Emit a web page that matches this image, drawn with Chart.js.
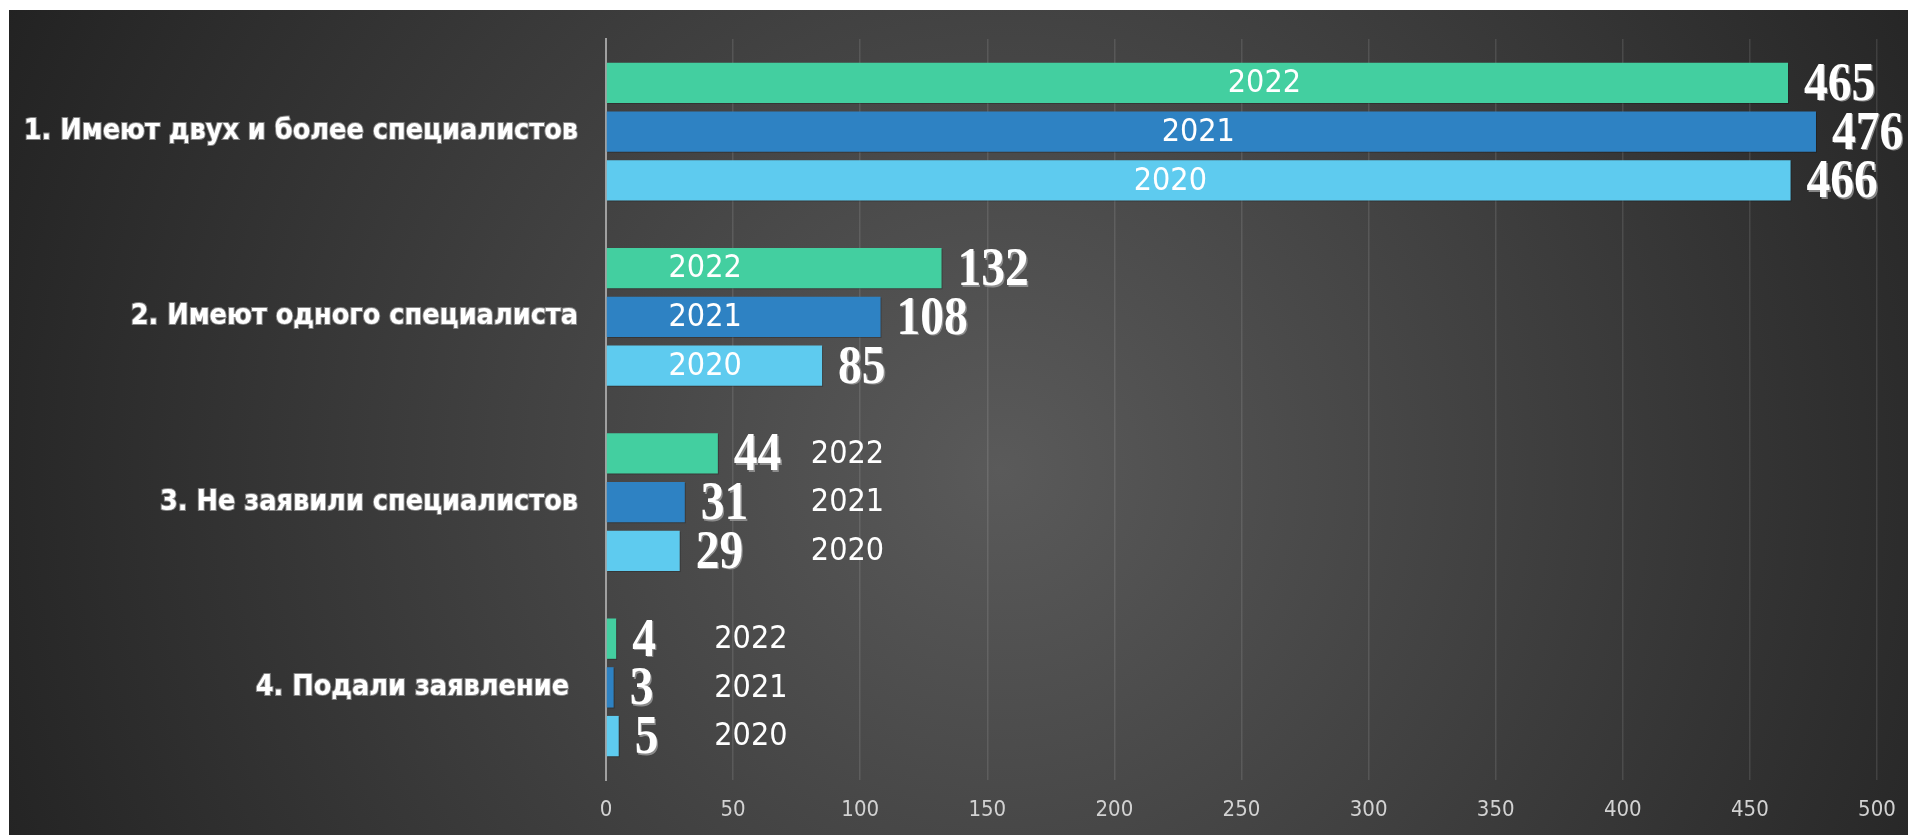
<!DOCTYPE html>
<html>
<head>
<meta charset="utf-8">
<script src="https://cdn.jsdelivr.net/npm/chart.js@4/dist/chart.umd.min.js"></script>
<style>
  html, body { margin: 0; padding: 0; background: #ffffff; }
  #wrap {
    position: absolute; left: 9px; top: 10px; width: 1899px; height: 825px;
    background: radial-gradient(circle 1100px at 991px 460px, #5a5a5a 0%, #222222 100%);
  }
</style>
</head>
<body>
<div id="wrap"><canvas id="c"></canvas></div>
<script>
// ---- data ----
const categories = [
  '1. Имеют двух и более специалистов',
  '2. Имеют одного специалиста',
  '3. Не заявили специалистов',
  '4. Подали заявление '
];
const years = ['2022', '2021', '2020'];
const values2022 = [465, 132, 44, 4];
const values2021 = [476, 108, 31, 3];
const values2020 = [466, 85, 29, 5];
const xTicks = [0, 50, 100, 150, 200, 250, 300, 350, 400, 450, 500];
// where each year caption is centred, in axis units (per year, per category)
const captionAt2022 = [259, 39, 95, 57];
const captionAt2021 = [233, 39, 95, 57];
const captionAt2020 = [222, 39, 95, 57];

const colors = ['#43cfa0', '#2e82c3', '#5ecbef'];
const seriesValues = [values2022, values2021, values2020];
const captionAt = [captionAt2022, captionAt2021, captionAt2020];

const condensed = "'DejaVu Sans Condensed', 'DejaVu Sans', sans-serif";

const labelPlugin = {
  id: 'barLabels',
  beforeDatasetsDraw(chart) {
    const ctx = chart.ctx;
    ctx.save();
    ctx.shadowColor = 'rgba(0,0,0,0.22)';
    ctx.shadowOffsetX = 1;
    ctx.shadowOffsetY = 1;
    ctx.shadowBlur = 0;
  },
  afterDatasetsDraw(chart) {
    const ctx = chart.ctx;
    ctx.restore();
    const xs = chart.scales.x;
    chart.data.datasets.forEach((ds, i) => {
      const meta = chart.getDatasetMeta(i);
      meta.data.forEach((bar, j) => {
        // value label
        ctx.save();
        ctx.font = "bold 54px 'Liberation Serif', 'DejaVu Serif', serif";
        ctx.textAlign = 'left';
        ctx.textBaseline = 'middle';
        ctx.translate(bar.x + 16, bar.y + 3);
        ctx.scale(0.88, 1);
        ctx.fillStyle = 'rgba(150,150,150,0.85)';
        ctx.fillText(String(ds.data[j]), 1.5, 1.5);
        ctx.fillStyle = '#ffffff';
        ctx.fillText(String(ds.data[j]), 0, 0);
        ctx.restore();
        // year caption
        ctx.save();
        ctx.font = "32px " + condensed;
        ctx.textAlign = 'center';
        ctx.textBaseline = 'middle';
        ctx.fillStyle = '#ffffff';
        ctx.fillText(ds.label, xs.getPixelForValue(captionAt[i][j]), bar.y + 1);
        ctx.restore();
      });
    });
  }
};

new Chart(document.getElementById('c'), {
  type: 'bar',
  data: {
    labels: categories,
    datasets: years.map((y, i) => ({
      label: y,
      data: seriesValues[i],
      backgroundColor: colors[i],
      borderWidth: 0,
      categoryPercentage: 0.789,
      barPercentage: 0.828
    }))
  },
  plugins: [labelPlugin],
  options: {
    indexAxis: 'y',
    responsive: true,
    maintainAspectRatio: false,
    animation: false,
    layout: { padding: { top: 29, right: 31, left: 0, bottom: 0 } },
    plugins: { legend: { display: false }, tooltip: { enabled: false } },
    scales: {
      x: {
        type: 'linear',
        min: 0, max: 500,
        afterBuildTicks(scale) { scale.ticks = xTicks.map(v => ({ value: v })); },
        afterFit(scale) {
          scale.height = 55;
          scale.paddingLeft = 0; scale.paddingRight = 0;
          scale.paddingTop = 0; scale.paddingBottom = 0;
        },
        grid: { color: 'rgba(255,255,255,0.11)', lineWidth: 1.5, drawTicks: false },
        border: { display: false },
        ticks: {
          color: '#d2d2d2',
          padding: 17,
          font: { family: condensed, size: 22 }
        }
      },
      y: {
        afterFit(scale) {
          scale.width = 597;
          scale.paddingTop = 0; scale.paddingBottom = 0;
          scale.paddingLeft = 0; scale.paddingRight = 0;
        },
        grid: { display: false, drawTicks: false },
        border: { display: true, color: '#a0a0a0', width: 2 },
        ticks: {
          color: '#ffffff',
          padding: 28,
          textStrokeColor: 'rgba(140,140,140,0.9)',
          textStrokeWidth: 2,
          font: { family: condensed, size: 28.5, weight: 'bold' }
        }
      }
    }
  }
});
</script>
</body>
</html>
